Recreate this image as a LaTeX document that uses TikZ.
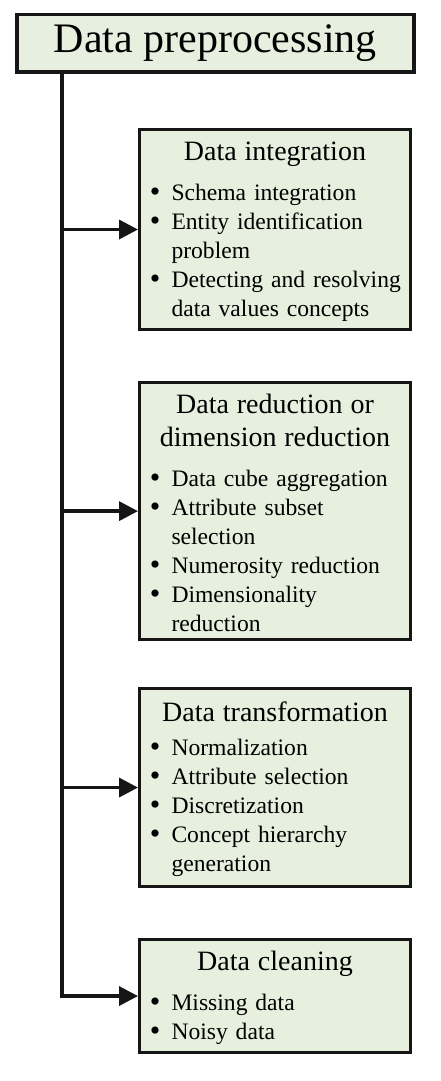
\documentclass[tikz,border=0pt]{standalone}
\usepackage{fontspec}
\setmainfont{Liberation Serif}
\usepackage{enumitem}
\usetikzlibrary{arrows.meta,positioning}
\definecolor{inkBlack}{RGB}{22, 22, 22}
\definecolor{stageFill}{RGB}{231, 240, 222}

\setlist[itemize]{nosep, leftmargin=27pt, labelsep=11pt,
    label=\raisebox{-1pt}{\fontsize{30}{29}\selectfont\textbullet}}
\newcommand{\stagehead}[2][11pt]{{\centering\fontsize{28}{33}\selectfont\rule{0pt}{23pt}#2\par}\vspace{#1}}

\begin{document}
\begin{tikzpicture}[
    stagebox/.style={draw=inkBlack, fill=stageFill, line width=3pt, anchor=north west,
        text width=261pt, inner xsep=5pt, inner ysep=8pt, align=left,
        font=\fontsize{23.6}{29}\selectfont},
    flow/.style={draw=inkBlack, line width=3.5pt, -{Triangle[length=19pt, width=19pt]}}
]
    \useasboundingbox (0,0) rectangle (440pt,-1081pt);

    \node[draw=inkBlack, fill=stageFill, line width=3.5pt, anchor=north west,
        minimum width=397pt, minimum height=57pt, inner sep=0pt,
        font=\fontsize{42}{44}\selectfont] (prep) at (15pt,-13pt) {Data preprocessing};
    \coordinate (spine) at (62pt,0);

    \node[stagebox] (integ) at (138pt,-128pt) {
        \stagehead{Data integration}
        \begin{itemize}\raggedright
            \item Schema integration
            \item Entity identification problem
            \item Detecting and resolving data values concepts
        \end{itemize}
    };
    \node[stagebox] (reduc) at (138pt,-381pt) {
        \stagehead{Data reduction or\\dimension reduction}
        \begin{itemize}\raggedright
            \item Data cube aggregation
            \item Attribute subset selection
            \item Numerosity reduction
            \item Dimensionality reduction
        \end{itemize}
    };
    \node[stagebox, inner ysep=10pt] (trans) at (138pt,-687pt) {
        \stagehead[5pt]{Data transformation}
        \begin{itemize}\raggedright
            \item Normalization
            \item Attribute selection
            \item Discretization
            \item Concept hierarchy generation
        \end{itemize}
    };
    \node[stagebox] (clean) at (138pt,-938pt) {
        \stagehead{Data cleaning}
        \begin{itemize}\raggedright
            \item Missing data
            \item Noisy data
        \end{itemize}
    };

    % spine and branches
    \draw[flow] (prep.south -| spine) |- (clean.west);
    \draw[flow] (integ.west -| spine) -- (integ.west);
    \draw[flow] (reduc.west -| spine) -- (reduc.west);
    \draw[flow] (trans.west -| spine) -- (trans.west);
\end{tikzpicture}
\end{document}
